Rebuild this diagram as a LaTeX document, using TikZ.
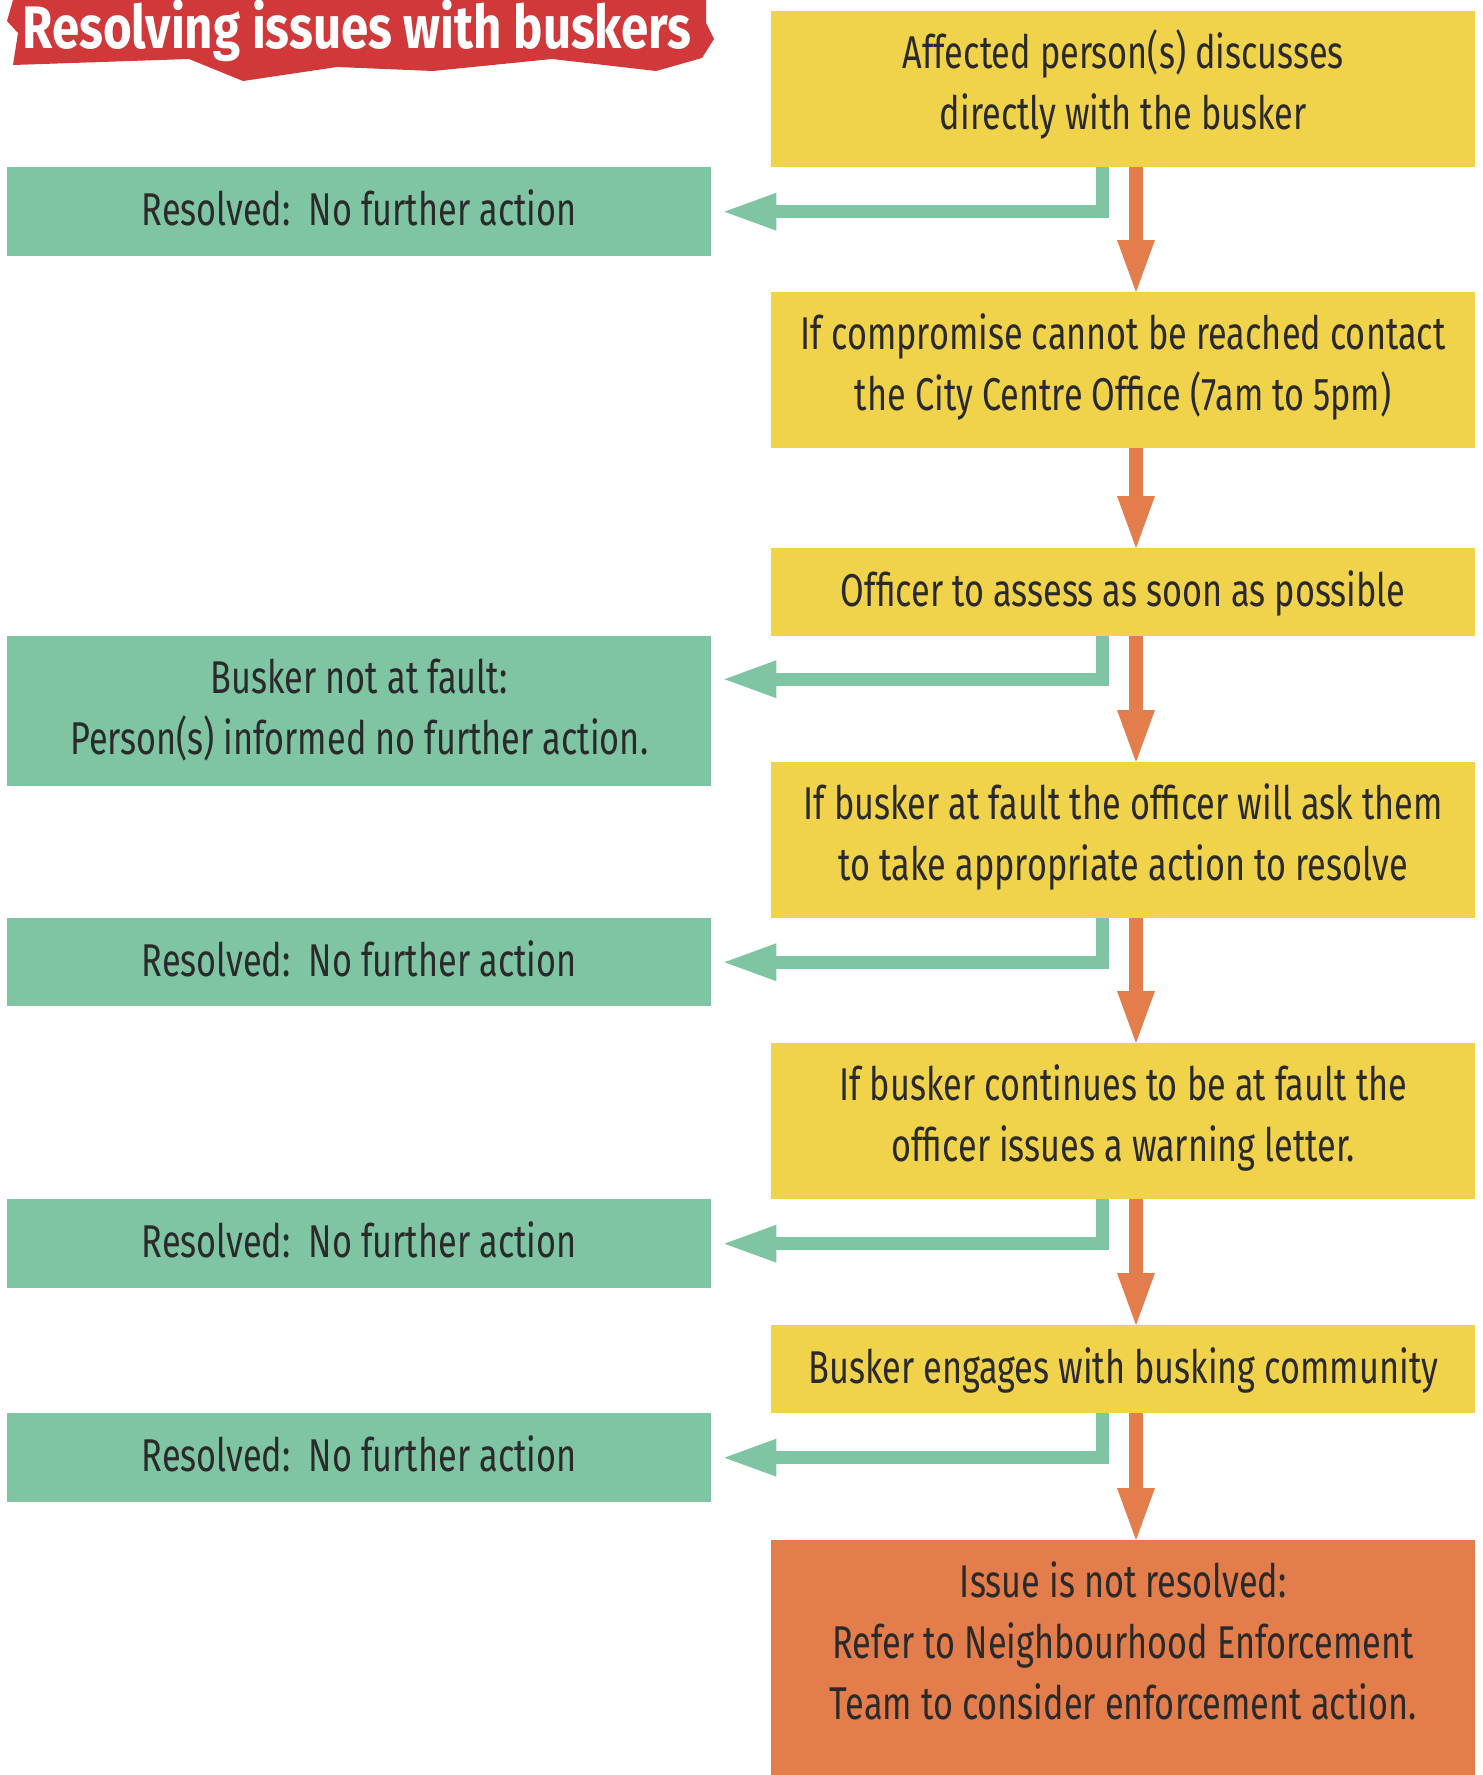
\documentclass[tikz,border=0pt]{standalone}
\usepackage{fontspec}
\usetikzlibrary{arrows.meta}
\newfontfamily\bodyfont[FakeStretch=0.745]{Fira Sans}
\newfontfamily\bannerfont[FakeStretch=0.82]{Fira Sans}
\definecolor{stepyellow}{HTML}{F0D24B}
\definecolor{resgreen}{HTML}{7FC4A3}
\definecolor{endorange}{HTML}{E37D4C}
\definecolor{bannerred}{HTML}{D0383A}
\definecolor{txt}{HTML}{2A2A2A}
\tikzset{
	box/.style = {rectangle, minimum width=704pt, inner sep=0pt, anchor=north west, align=center, text=txt, font=\bodyfont\fontsize{46}{61}\selectfont},
	oneline/.style = {text height=34pt, text depth=6pt},
	twoline/.style = {text height=95pt, text depth=15pt},
	stepbox/.style = {box, fill=stepyellow},
	resbox/.style = {box, fill=resgreen},
	endbox/.style = {box, fill=endorange},
	nextarrow/.style = {draw=endorange, line width=14pt, -{Triangle[length=52pt,width=38pt,line width=0pt]}},
	backarrow/.style = {draw=resgreen, line width=13pt, miter limit=10, -{Triangle[length=52pt,width=38pt,line width=0pt]}}
}

\begin{document}
\begin{tikzpicture} [x = 1pt, y = -1pt]
		\useasboundingbox (0,0) rectangle (1483,1775);
		\fill [bannerred] (13,65) -- (18,33) -- (7,21) -- (13,0) -- (706,0) -- (706,23) -- (714,39) -- (702,58) -- (656,71) -- (552,59) -- (433,71) -- (337,67) -- (243,81) -- (189,59) -- cycle;
		\node [anchor=base, text=white, font=\bannerfont\bfseries\fontsize{60}{60}\selectfont] (title) at (357,48) {Resolving issues with buskers};
		\node [stepbox, twoline, minimum height=156pt] (s1) at (771,11) {Affected person(s) discusses\\directly with the busker};
		\node [resbox, oneline, minimum height=89pt] (r1) at (7,167) {Resolved:\ \ No further action};
		\node [stepbox, twoline, minimum height=156pt] (s2) at (771,292) {If compromise cannot be reached contact\\the City Centre Office (7am to 5pm)};
		\node [stepbox, oneline, minimum height=88pt] (s3) at (771,548) {Officer to assess as soon as possible};
		\node [resbox, twoline, text depth=8pt, minimum height=150pt] (r2) at (7,636) {Busker not at fault:\\Person(s) informed no further action.};
		\node [stepbox, twoline, minimum height=156pt] (s4) at (771,762) {If busker at fault the officer will ask them\\to take appropriate action to resolve};
		\node [resbox, oneline, minimum height=88pt] (r3) at (7,918) {Resolved:\ \ No further action};
		\node [stepbox, twoline, minimum height=156pt] (s5) at (771,1043) {If busker continues to be at fault the\\officer issues a warning letter.};
		\node [resbox, oneline, minimum height=89pt] (r4) at (7,1199) {Resolved:\ \ No further action};
		\node [stepbox, oneline, minimum height=88pt] (s6) at (771,1325) {Busker engages with busking community};
		\node [resbox, oneline, minimum height=89pt] (r5) at (7,1413) {Resolved:\ \ No further action};
		\node [endbox, text height=156pt, text depth=33pt, minimum height=235pt] (e1) at (771,1540) {Issue is not resolved:\\Refer to Neighbourhood Enforcement\\Team to consider enforcement action.};
		\draw [nextarrow] ([xshift=365pt]s1.south west) -- ([xshift=365pt]s2.north west);
		\draw [nextarrow] ([xshift=365pt]s2.south west) -- ([xshift=365pt]s3.north west);
		\draw [nextarrow] ([xshift=365pt]s3.south west) -- ([xshift=365pt]s4.north west);
		\draw [nextarrow] ([xshift=365pt]s4.south west) -- ([xshift=365pt]s5.north west);
		\draw [nextarrow] ([xshift=365pt]s5.south west) -- ([xshift=365pt]s6.north west);
		\draw [nextarrow] ([xshift=365pt]s6.south west) -- ([xshift=365pt]e1.north west);
		\draw [backarrow] ([xshift=331pt]s1.south west) |- ([xshift=13pt]r1.east);
		\draw [backarrow] ([xshift=331pt]s3.south west) |- ([xshift=13pt,yshift=32pt]r2.east);
		\draw [backarrow] ([xshift=331pt]s4.south west) |- ([xshift=13pt]r3.east);
		\draw [backarrow] ([xshift=331pt]s5.south west) |- ([xshift=13pt]r4.east);
		\draw [backarrow] ([xshift=331pt]s6.south west) |- ([xshift=13pt]r5.east);
	\end{tikzpicture}
\end{document}
